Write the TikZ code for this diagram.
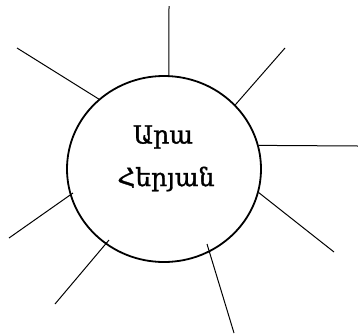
\documentclass[tikz,border=0pt]{standalone}
\usepackage{fontspec}
\newfontfamily\armfont[FakeBold=1.2]{DejaVu Serif}
\usetikzlibrary{shapes.geometric}

\begin{document}
\begin{tikzpicture}[
    x=1pt, y=-1pt,
    % Central name ellipse
    hub/.style={
        ellipse, draw=black, line width=1.8pt, fill=white,
        minimum width=194pt, minimum height=186pt, inner sep=0pt
    },
    % Radiating strokes
    ray/.style={draw=black, line width=1pt},
    namelabel/.style={font=\armfont\fontsize{25}{30}\selectfont, align=center}
]
    \useasboundingbox (0,0) rectangle (358,335);

    % =========================================================================
    % Centre
    % =========================================================================
    \node[hub] (person) at (164,169) {};
    \node[namelabel] (given) at (163,137) {Արա};
    \node[namelabel] (family) at (166,179) {Հերյան};

    % =========================================================================
    % Free ends of the rays
    % =========================================================================
    \coordinate (endN)  at (169,6);
    \coordinate (endNW) at (17,48);
    \coordinate (endNE) at (285,48);
    \coordinate (endE)  at (358,146);
    \coordinate (endSE) at (334,252);
    \coordinate (endS)  at (234,333);
    \coordinate (endSW) at (55,304);
    \coordinate (endW)  at (9,238);

    % inner ends that sit a little inside the ring
    \coordinate (footS)  at (207,244);
    \coordinate (footSW) at (109,240);
    \coordinate (footW)  at (73,193);

    % =========================================================================
    % Rays
    % =========================================================================
    \draw[ray] (person.87)  -- (endN);
    \draw[ray] (person.133) -- (endNW);
    \draw[ray] (person.42)  -- (endNE);
    \draw[ray] (person.14)  -- (endE);
    \draw[ray] (person.-14) -- (endSE);
    \draw[ray] (footS)  -- (endS);
    \draw[ray] (footSW) -- (endSW);
    \draw[ray] (footW)  -- (endW);

\end{tikzpicture}
\end{document}
